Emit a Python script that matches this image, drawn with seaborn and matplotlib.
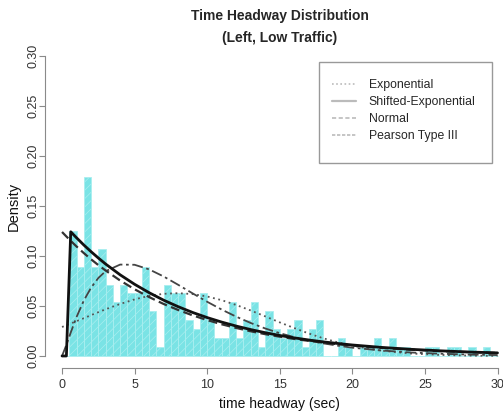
import matplotlib.pyplot as plt
from matplotlib.lines import Line2D
from matplotlib.patches import Rectangle
import pandas as pd
import seaborn as sns

sns.set_style('white')
plt.rcParams['font.family'] = ['Liberation Sans', 'DejaVu Sans']
plt.rcParams['hatch.linewidth'] = 0.5

# Histogram: counts per 0.5 s bin, 0 to 30 s
bin_edges = [i * 0.5 for i in range(61)]
counts = [0, 14, 10, 20, 10, 12, 8, 6, 8, 7,
          7, 10, 5, 1, 8, 7, 7, 4, 3, 7,
          4, 2, 2, 6, 2, 4, 6, 1, 5, 3,
          2, 3, 4, 1, 3, 4, 0, 0, 2, 1,
          0, 1, 1, 2, 1, 2, 1, 1, 0, 0,
          1, 1, 0, 1, 1, 0, 1, 0, 1, 0]

# Fitted density curves
curve_x = [0, 0.3, 0.6, 1, 1.5, 2, 2.5, 3, 4, 5, 6, 7, 8, 9, 10,
           11, 12, 13, 14, 15, 16, 17, 18, 19, 20, 22, 24, 26, 28, 30]
exp_y = [0.124, 0.1195, 0.1151, 0.1095, 0.1029, 0.0967, 0.0909, 0.0855, 0.0755, 0.0667,
         0.0589, 0.0520, 0.0460, 0.0406, 0.0359, 0.0317, 0.0280, 0.0247, 0.0218, 0.0193,
         0.0170, 0.0151, 0.0133, 0.0118, 0.0104, 0.0081, 0.0063, 0.0049, 0.0039, 0.0030]
shifted_y = [0, 0, 0.1242, 0.1182, 0.1110, 0.1043, 0.0980, 0.0920, 0.0812, 0.0717,
             0.0633, 0.0558, 0.0493, 0.0435, 0.0384, 0.0339, 0.0299, 0.0264, 0.0233, 0.0205,
             0.0181, 0.0160, 0.0141, 0.0125, 0.0110, 0.0086, 0.0067, 0.0052, 0.0040, 0.0031]
normal_y = [0.0290, 0.0307, 0.0325, 0.0348, 0.0378, 0.0408, 0.0438, 0.0467, 0.0520, 0.0566,
            0.0601, 0.0622, 0.0628, 0.0619, 0.0595, 0.0558, 0.0510, 0.0455, 0.0396, 0.0336,
            0.0279, 0.0225, 0.0177, 0.0136, 0.0102, 0.0053, 0.0025, 0.0011, 0.0004, 0.0001]
pearson_y = [0, 0.0111, 0.0235, 0.0390, 0.0554, 0.0683, 0.0780, 0.0848, 0.0914, 0.0912,
             0.0866, 0.0795, 0.0712, 0.0626, 0.0542, 0.0464, 0.0393, 0.0330, 0.0275, 0.0228,
             0.0188, 0.0155, 0.0126, 0.0103, 0.0083, 0.0055, 0.0035, 0.0023, 0.0014, 0.0009]

legend_labels = ['Exponential', 'Shifted-Exponential', 'Normal', 'Pearson Type III']
x_ticks = [0, 5, 10, 15, 20, 25, 30]
y_ticks = [0.00, 0.05, 0.10, 0.15, 0.20, 0.25, 0.30]

hist_df = pd.DataFrame({'headway': [e + 0.25 for e in bin_edges[:-1]], 'n': counts})

fig = plt.figure(figsize=(5.03, 4.15), dpi=100)
fig.patch.set_facecolor('white')
# R-style plot region (runs a bit past the right edge, like the source)
ax = fig.add_axes([0.0887, 0.1133, 0.935, 0.7807])

sns.histplot(data=hist_df, x='headway', weights='n', bins=bin_edges, stat='density',
             color='#7AE3E5', edgecolor='#A9EEEF', linewidth=0.6, alpha=1,
             hatch='////', ax=ax)

sns.lineplot(x=curve_x, y=normal_y, color='#555555', linestyle=(0, (1, 2)),
             linewidth=1.3, ax=ax)
sns.lineplot(x=curve_x, y=pearson_y, color='#444444', linestyle=(0, (6, 2, 1.5, 2)),
             linewidth=1.3, ax=ax)
sns.lineplot(x=curve_x, y=exp_y, color='#333333', linestyle=(0, (4, 2)),
             linewidth=1.6, ax=ax)
sns.lineplot(x=curve_x, y=shifted_y, color='#111111', linestyle='-',
             linewidth=2.0, ax=ax)

ax.set_xlim(-1.2, 31.2)
ax.set_ylim(-0.012, 0.312)
ax.set_xticks(x_ticks)
ax.set_xticklabels([str(t) for t in x_ticks])
ax.set_yticks(y_ticks)
ax.set_yticklabels([f'{t:.2f}' for t in y_ticks], rotation=90, va='center')

for side in ['top', 'right']:
    ax.spines[side].set_visible(False)
for side in ['left', 'bottom']:
    ax.spines[side].set_color('#8a8a8a')
    ax.spines[side].set_linewidth(0.8)
ax.spines['bottom'].set_bounds(0, 30)
ax.spines['left'].set_bounds(0, 0.30)
ax.tick_params(axis='both', direction='out', length=4, width=0.8, color='#8a8a8a',
               labelsize=9, labelcolor='#333333', bottom=True, left=True)
ax.tick_params(axis='x', pad=4)
ax.tick_params(axis='y', pad=0)

ax.set_xlabel('time headway (sec)', fontsize=10, color='#111111')
ax.xaxis.label.set_va('center')
ax.xaxis.set_label_coords(0.5, -0.111)
ax.set_ylabel('Density', fontsize=10.5, color='#111111')
ax.yaxis.label.set_va('center')
ax.yaxis.set_label_coords(-0.066, 0.5)

# Two-line bold title, centred over the plot region
fig.text(280 / 503, 1 - 16 / 415, 'Time Headway Distribution', ha='center', va='center',
         fontsize=10, fontweight='bold')
fig.text(280 / 503, 1 - 38 / 415, '(Left, Low Traffic)', ha='center', va='center',
         fontsize=10, fontweight='bold')

# Legend (light grey keys, square grey box)
handles = [
    Line2D([], [], color='#bbbbbb', linestyle=(0, (1, 1.5)), linewidth=1.2),
    Line2D([], [], color='#bbbbbb', linestyle='-', linewidth=1.6),
    Line2D([], [], color='#bbbbbb', linestyle=(0, (2.5, 1.5)), linewidth=1.2),
    Line2D([], [], color='#bbbbbb', linestyle=(0, (2, 1)), linewidth=1.2),
]
ax.legend(handles, legend_labels, loc='upper left',
          bbox_to_anchor=(332 / 503, 1 - 79 / 415), bbox_transform=fig.transFigure,
          frameon=False, borderpad=0, borderaxespad=0, fontsize=8.8,
          handlelength=2.0, handletextpad=1.0, labelspacing=0.42)
fig.patches.append(Rectangle((319 / 503, 1 - 163 / 415), 173 / 503, 101 / 415,
                             transform=fig.transFigure, fill=False,
                             edgecolor='#999999', linewidth=1.0))

fig.savefig('out.png', dpi=100, facecolor='white')
